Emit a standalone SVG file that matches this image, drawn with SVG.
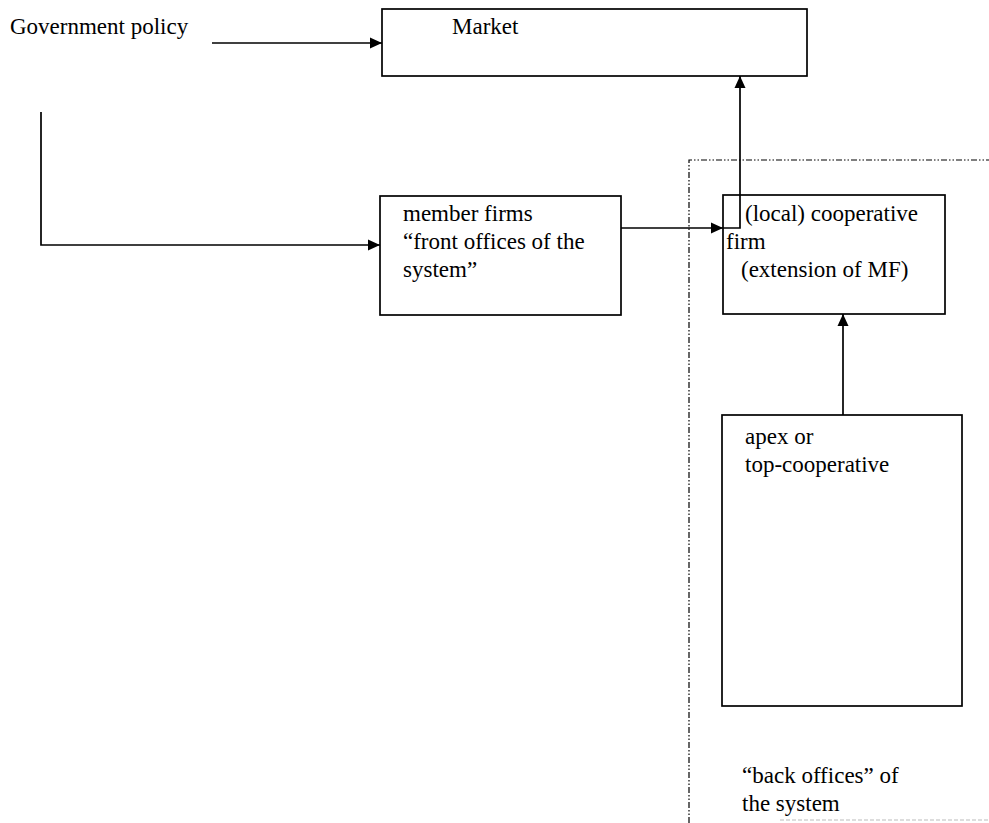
<svg xmlns="http://www.w3.org/2000/svg" width="989" height="823" viewBox="0 0 989 823">
<defs>
<marker id="ah" markerWidth="12" markerHeight="12" refX="12" refY="6" orient="auto" markerUnits="userSpaceOnUse">
<path d="M0,0.5 L12,6 L0,11.5 Z" fill="#000"/>
</marker>
<style>
.box{fill:#fff;stroke:#000;stroke-width:1.7}
.ln{fill:none;stroke:#000;stroke-width:1.7}
.t{font-family:"Liberation Serif","Times New Roman",serif;font-size:23px;fill:#000}
.dash{fill:none;stroke:#000;stroke-width:1.2;stroke-dasharray:6 2 1.5 2 1.5 2}
</style>
</defs>
<rect width="989" height="823" fill="#fff"/>
<g id="boundary">
<path class="dash" d="M689,823 L689,160 L989,160"/>
<path d="M780,820 L989,820" stroke="#bbb" stroke-width="1" stroke-dasharray="4 2" fill="none"/>
</g>
<g id="government-policy">
<text class="t" x="10" y="34">Government policy</text>
</g>
<g id="market">
<rect class="box" x="382" y="9" width="425" height="67"/>
<text class="t" x="452" y="34">Market</text>
</g>
<g id="member-firms">
<rect class="box" x="380" y="196" width="241" height="119"/>
<text class="t" x="403" y="221">member firms</text>
<text class="t" x="403" y="249">“front offices of the</text>
<text class="t" x="403" y="277">system”</text>
</g>
<g id="cooperative-firm">
<rect class="box" x="723" y="195" width="222" height="119"/>
<text class="t" x="745" y="221">(local) cooperative</text>
<text class="t" x="726" y="249">firm</text>
<text class="t" x="741" y="277">(extension of MF)</text>
</g>
<g id="apex">
<rect class="box" x="722" y="415" width="240" height="291"/>
<text class="t" x="745" y="444">apex or</text>
<text class="t" x="745" y="472">top-cooperative</text>
</g>
<g id="back-offices">
<text class="t" x="742" y="783">“back offices” of</text>
<text class="t" x="742" y="811">the system</text>
</g>
<g id="connectors">
<line class="ln" x1="212" y1="43" x2="382" y2="43" marker-end="url(#ah)"/>
<path class="ln" d="M41,112 L41,245 L380,245" marker-end="url(#ah)"/>
<line class="ln" x1="621" y1="228" x2="723" y2="228" marker-end="url(#ah)"/>
<path class="ln" d="M723,228 L740,228 L740,76" marker-end="url(#ah)"/>
<line class="ln" x1="843" y1="415" x2="843" y2="314" marker-end="url(#ah)"/>
</g>
</svg>
